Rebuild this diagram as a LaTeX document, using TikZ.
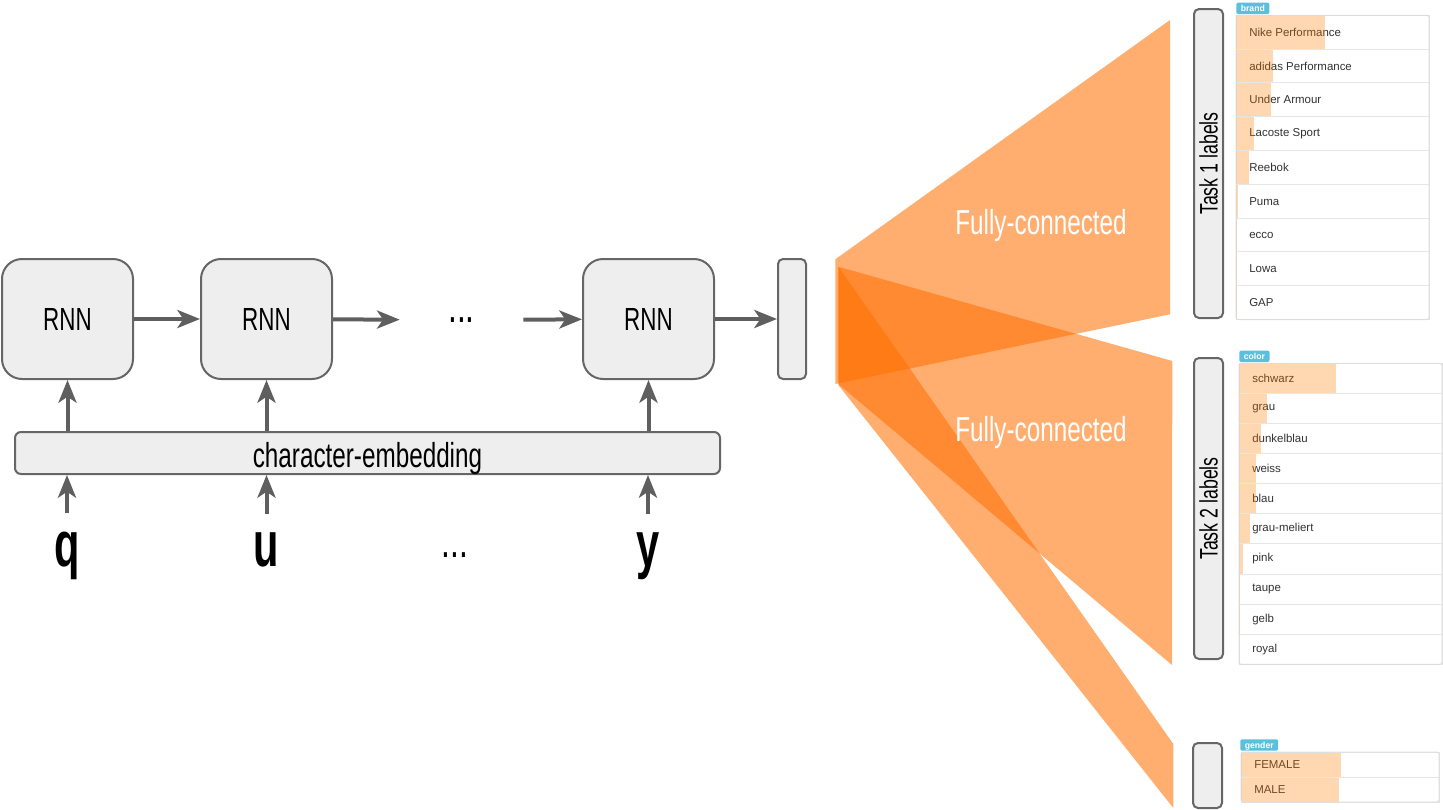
\documentclass[tikz,border=0pt]{standalone}
\usepackage{fontspec}
\setmainfont{Liberation Sans}
\newfontfamily\narrowfont[FakeStretch=0.7]{Liberation Sans}
\newfontfamily\letterfont[FakeStretch=0.65]{Liberation Sans}
\usetikzlibrary{arrows.meta}

\definecolor{boxfill}{HTML}{EEEEEE}
\definecolor{boxline}{HTML}{666666}
\definecolor{arrowgray}{HTML}{5F5F5F}
\definecolor{fcorange}{RGB}{255,110,0}
\definecolor{barorange}{RGB}{255,127,0}
\definecolor{badgeblue}{HTML}{5BC0DE}
\definecolor{framegray}{HTML}{DDDDDD}
\definecolor{sepgray}{HTML}{E6E6E6}
\definecolor{labelgray}{HTML}{333333}

\tikzset{
  flow/.style={draw=arrowgray, line width=3pt, -{Stealth[length=17pt,width=13.5pt,inset=4.5pt]}},
  rnncell/.style={draw=boxline, fill=boxfill, line width=1.5pt, rounded corners=15pt,
    minimum width=98.25pt, minimum height=90pt, font=\narrowfont\fontsize{24}{28}\selectfont},
  vecbox/.style={draw=boxline, fill=boxfill, line width=1.5pt, rounded corners=3.75pt,
    minimum width=21pt, minimum height=90pt},
  embbar/.style={draw=boxline, fill=boxfill, line width=1.5pt, rounded corners=4.5pt,
    minimum width=528.75pt, minimum height=31.5pt, inner ysep=0pt, text height=24pt, text depth=3pt,
    font=\narrowfont\fontsize{26}{30}\selectfont},
  letter/.style={inner sep=0pt, font=\letterfont\fontsize{48}{50}\selectfont\bfseries},
  dotsnode/.style={inner sep=0pt, font=\narrowfont\fontsize{34}{36}\selectfont},
  taskbox/.style={draw=boxline, fill=boxfill, line width=1.5pt, rounded corners=3.75pt,
    rotate=90, minimum height=21.75pt, inner sep=0pt, font=\narrowfont\fontsize{19}{22}\selectfont},
  fc/.style={fill=fcorange, fill opacity=0.56},
  fctext/.style={text=white, font=\narrowfont\fontsize{26}{30}\selectfont},
  rowbox/.style={draw=sepgray, fill=white, line width=0.75pt},
  rowtext/.style={anchor=west, inner sep=0pt, text=labelgray, font=\fontsize{8.6}{10}\selectfont},
  bar/.style={fill=barorange, fill opacity=0.3},
  listframe/.style={draw=framegray, line width=0.75pt, rounded corners=1.5pt},
  badge/.style={anchor=south west, fill=badgeblue, text=white, rounded corners=1.5pt,
    inner xsep=3.4pt, inner ysep=1.8pt, text height=5pt, text depth=0pt,
    font=\fontsize{6.5}{7}\selectfont\bfseries}
}

\begin{document}
\begin{tikzpicture}[x=0.75pt,y=0.75pt,yscale=-1,xscale=1]
\useasboundingbox (0,0) rectangle (1443,810);

% RNN chain
\node[rnncell] (rnn1) at (67.5,319) {RNN};
\node[rnncell] (rnn2) at (266.5,319) {RNN};
\node[dotsnode, minimum width=92.25pt] (dots1) at (461.5,320) {...};
\node[rnncell] (rnn3) at (648.5,319) {RNN};
\node[vecbox] (vec) at (792,319) {};

\draw[flow] (rnn1) -- (rnn2);
\draw[flow] (rnn2) -- (dots1);
\draw[flow] (dots1) -- (rnn3);
\draw[flow] (rnn3) -- (vec);

% embedding and inputs
\node[embbar] (emb) at (367.5,453) {character-embedding};
\node[letter, anchor=base] (q) at (67,566) {q};
\node[letter, anchor=base] (u) at (266.5,566) {u};
\node[dotsnode] (dots2) at (455,555) {...};
\node[letter, anchor=base] (y) at (648,566) {y};

\foreach \c in {rnn1,rnn2,rnn3}
  \draw[flow] (emb.north -| \c) -- (\c.south);
\foreach \c in {q,u,y}
  \draw[flow, shorten <=13.5pt] (\c.north) -- (\c.north |- emb.south);

% fully-connected fans
\fill[fc] (835.3,259.3) -- (1170,20) -- (1170,314.3) -- (835.3,384) -- cycle;
\fill[fc] (838.3,266.7) -- (1172.3,361) -- (1172,665) -- (838.3,384) -- cycle;
\fill[fc] (838.3,266.7) -- (1173.3,744) -- (1173.3,808) -- (838.3,385) -- cycle;
\node[fctext] (fc1) at (1041,226) {Fully-connected};
\node[fctext] (fc2) at (1041,433) {Fully-connected};

% task boxes
\node[taskbox, minimum width=231.75pt] (task1) at (1208.5,163.5) {Task 1 labels};
\node[taskbox, minimum width=225.75pt] (task2) at (1208.5,508.5) {Task 2 labels};
\node[taskbox, minimum width=48.75pt] (task3) at (1207.5,775.5) {};

% brand list
\node[badge] (brand) at (1236,14.3) {brand};
\foreach \lab/\w [count=\i] in {Nike Performance/89, adidas Performance/37, Under Armour/35,
    Lacoste Sport/18, Reebok/13, Puma/2, ecco/1, Lowa/1, GAP/1}{
  \draw[rowbox] (1236,{15.3+33.8*(\i-1)}) rectangle (1429,{15.3+33.8*\i});
  \node[rowtext] (brand\i) at (1249,{15.3+33.8*(\i-0.5)}) {\lab};
  \fill[bar] (1236,{15.3+33.8*(\i-1)+0.5}) rectangle ({1236+\w},{15.3+33.8*\i-0.5});
}
\draw[listframe] (1236,15.3) rectangle (1429,319.5);

% color list
\node[badge] (color) at (1239,362.3) {color};
\foreach \lab/\w [count=\i] in {schwarz/97, grau/28, dunkelblau/22, weiss/17, blau/17,
    grau-meliert/11, pink/4, taupe/1, gelb/1, royal/0}{
  \draw[rowbox] (1239,{363.3+30.1*(\i-1)}) rectangle (1442,{363.3+30.1*\i});
  \node[rowtext] (color\i) at (1252,{363.3+30.1*(\i-0.5)}) {\lab};
  \fill[bar] (1239,{363.3+30.1*(\i-1)+0.5}) rectangle ({1239+\w},{363.3+30.1*\i-0.5});
}
\draw[listframe] (1239,363.3) rectangle (1442,664.3);

% gender list
\node[badge] (gender) at (1240,751) {gender};
\foreach \lab/\w [count=\i] in {FEMALE/100, MALE/98}{
  \draw[rowbox] (1241,{752+25*(\i-1)}) rectangle (1439,{752+25*\i});
  \node[rowtext] (gender\i) at (1254,{752+25*(\i-0.5)}) {\lab};
  \fill[bar] (1241,{752+25*(\i-1)+0.5}) rectangle ({1241+\w},{752+25*\i-0.5});
}
\draw[listframe] (1241,752) rectangle (1439,802);

\end{tikzpicture}
\end{document}
